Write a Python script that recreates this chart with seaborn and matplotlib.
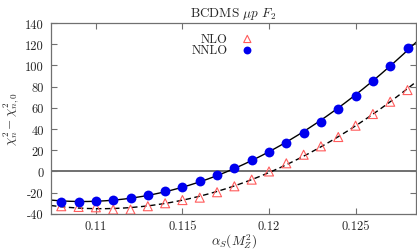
import numpy as np
import pandas as pd
import matplotlib
matplotlib.use("Agg")
import matplotlib.pyplot as plt
import seaborn as sns

# alpha_S values where chi^2 was evaluated
alpha_s = [0.108, 0.109, 0.110, 0.111, 0.112, 0.113, 0.114, 0.115, 0.116, 0.117,
           0.118, 0.119, 0.120, 0.121, 0.122, 0.123, 0.124, 0.125, 0.126, 0.127, 0.128]

# chi^2 differences
chi2_nlo = [-32.8, -33.5, -33.8, -36.0, -36.0, -32.8, -30.0, -27.0, -24.7, -19.6,
            -14.0, -7.7, 0.0, 7.7, 15.8, 23.7, 32.5, 43.2, 54.2, 65.8, 76.8]
chi2_nnlo = [-29.0, -28.5, -28.0, -27.0, -25.0, -22.0, -18.7, -14.6, -9.0, -3.3,
             3.6, 10.8, 18.7, 26.9, 36.3, 46.9, 59.2, 71.4, 85.6, 99.7, 116.4]

xticks = [0.11, 0.115, 0.12, 0.125]
xticklabels = ['0.11', '0.115', '0.12', '0.125']
yticks = [-40, -20, 0, 20, 40, 60, 80, 100, 120, 140]
yticklabels = ['-40', '-20', '0', '20', '40', '60', '80', '100', '120', '140']

df = pd.DataFrame({'alpha': alpha_s, 'nlo': chi2_nlo, 'nnlo': chi2_nnlo})

sns.set_theme(style="ticks")
plt.rcParams['font.family'] = 'serif'
plt.rcParams['font.serif'] = ['cmr10', 'DejaVu Serif']
plt.rcParams['mathtext.fontset'] = 'cm'
plt.rcParams['axes.unicode_minus'] = False

fig = plt.figure(figsize=(4.17, 2.51), dpi=100)
ax = fig.add_axes([0.122, 0.144, 0.876, 0.760])

xmin, xmax = 0.1074, 0.1285

# quadratic fits to the points, drawn over the full range
xfit = np.linspace(xmin, xmax, 200)
fit_nlo = np.polyval(np.polyfit(df['alpha'], df['nlo'], 2), xfit)
fit_nnlo = np.polyval(np.polyfit(df['alpha'], df['nnlo'], 2), xfit)

# zero line
ax.axhline(0, color='#707070', lw=1.4, zorder=1)

sns.lineplot(x=xfit, y=fit_nnlo, color='black', lw=1.0, ax=ax, zorder=2)
sns.lineplot(x=xfit, y=fit_nlo, color='black', lw=1.0, ax=ax, zorder=2,
             linestyle=(0, (4, 2.5)))

# points
sns.scatterplot(x='alpha', y='nlo', data=df, ax=ax, marker='^', s=42,
                facecolor='none', edgecolor='#ff5c5c', linewidth=0.8,
                label='NLO', zorder=3)
sns.scatterplot(x='alpha', y='nnlo', data=df, ax=ax, marker='o', s=50,
                color='#0000ee', edgecolor='#0000ee', linewidth=0,
                label='NNLO', zorder=4)

ax.set_xlim(xmin, xmax)
ax.set_ylim(-40, 140)
ax.set_xticks(xticks)
ax.set_xticklabels(xticklabels)
ax.set_yticks(yticks)
ax.set_yticklabels(yticklabels)

ax.tick_params(direction='in', length=4, width=0.8, color='#707070',
               labelsize=9, top=True, right=True, pad=5)
ax.tick_params(axis='x', pad=4)
for sp in ax.spines.values():
    sp.set_color('#707070')
    sp.set_linewidth(0.9)

ax.set_title(r'BCDMS $\mu p$ $F_2$', fontsize=9.5, pad=5)
ax.set_xlabel(r'$\alpha_S(M_Z^2)$', fontsize=9.5, labelpad=0)
ax.set_ylabel(r'$\chi^2_n-\chi^2_{n,0}$', fontsize=9.5, labelpad=2)

# legend: labels right-aligned, markers after text
leg = ax.legend(loc='upper center', bbox_to_anchor=(0.478, 1.0), frameon=False,
                markerfirst=False, fontsize=9, handletextpad=0.6,
                labelspacing=-0.1, borderaxespad=0.4, markerscale=0.8)
for t in leg.get_texts():
    t.set_ha('right')

fig.savefig('out.png', dpi=100)
